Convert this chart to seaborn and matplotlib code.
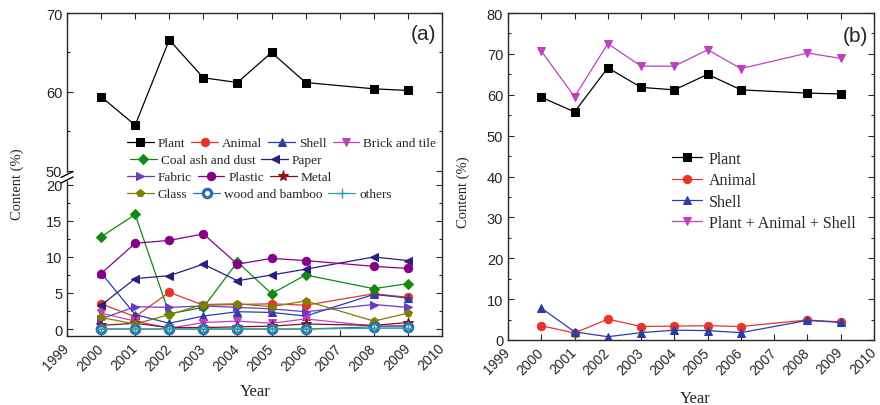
import numpy as np
import matplotlib
matplotlib.use("Agg")
import matplotlib.pyplot as plt
import seaborn as sns
from matplotlib.ticker import MultipleLocator
from matplotlib.lines import Line2D

# ------------------------
# Data
# ------------------------
years = [2000, 2001, 2002, 2003, 2004, 2005, 2006, 2008, 2009]

plant = [59.4, 55.8, 66.6, 61.8, 61.2, 65.0, 61.2, 60.4, 60.2]
animal = [3.5, 1.7, 5.1, 3.3, 3.4, 3.5, 3.3, 4.9, 4.4]
shell = [7.8, 2.0, 0.8, 1.8, 2.4, 2.3, 1.8, 4.8, 4.3]
brick = [2.2, 1.1, 0.1, 0.9, 1.1, 0.8, 1.4, 0.4, 0.5]
coal = [12.8, 15.9, 2.1, 3.0, 9.3, 4.9, 7.5, 5.6, 6.3]
paper = [3.3, 7.0, 7.4, 9.0, 6.7, 7.5, 8.3, 10.0, 9.5]
fabric = [1.4, 3.1, 3.0, 3.2, 3.0, 2.8, 2.4, 3.4, 3.0]
plastic = [7.7, 11.9, 12.3, 13.2, 9.0, 9.8, 9.5, 8.7, 8.4]
metal = [0.5, 0.8, 0.2, 0.2, 0.3, 0.4, 0.7, 0.5, 0.9]
glass = [1.6, 0.7, 2.0, 3.4, 3.5, 3.1, 3.9, 1.1, 2.2]
wood = [0.0, 0.0, 0.0, 0.0, 0.0, 0.0, 0.0, 0.3, 0.3]
others = [0.0, 0.0, 0.0, 0.0, 0.0, 0.0, 0.0, 0.1, 0.1]
plant_animal_shell = [70.7, 59.5, 72.5, 67.0, 67.0, 71.0, 66.4, 70.2, 68.9]

year_ticks = list(range(1999, 2011))

# label, values, color, marker
series_a = [
    ("Plant", plant, "#000000", "s"),
    ("Animal", animal, "#e8352a", "o"),
    ("Shell", shell, "#2b3ea6", "^"),
    ("Brick and tile", brick, "#c040c0", "v"),
    ("Coal ash and dust", coal, "#108a10", "D"),
    ("Paper", paper, "#2a1f80", "<"),
    ("Fabric", fabric, "#6a3bc8", ">"),
    ("Plastic", plastic, "#880088", "o"),
    ("Metal", metal, "#8b1010", "*"),
    ("Glass", glass, "#7f7f00", "p"),
    ("wood and bamboo", wood, "#2f6fb0", "o"),
    ("others", others, "#30a0a0", "+"),
]
legend_rows = [
    ["Plant", "Animal", "Shell", "Brick and tile"],
    ["Coal ash and dust", "Paper"],
    ["Fabric", "Plastic", "Metal"],
    ["Glass", "wood and bamboo", "others"],
]

series_b = [
    ("Plant", plant, "#000000", "s"),
    ("Animal", animal, "#e8352a", "o"),
    ("Shell", shell, "#2b3ea6", "^"),
    ("Plant + Animal + Shell", plant_animal_shell, "#c040c0", "v"),
]

# ------------------------
# Style
# ------------------------
sns.set_style("ticks")
plt.rcParams["font.family"] = ["Liberation Sans", "DejaVu Sans"]
plt.rcParams["xtick.direction"] = "in"
plt.rcParams["ytick.direction"] = "in"
SERIF = ["Liberation Serif", "DejaVu Serif"]

W, H = 880, 406
fig = plt.figure(figsize=(W / 100, H / 100), dpi=100)


def px_box(x0, y0, x1, y1):
    return [x0 / W, 1 - y1 / H, (x1 - x0) / W, (y1 - y0) / H]


ax_top = fig.add_axes(px_box(67, 14, 442, 178))
ax_bot = fig.add_axes(px_box(67, 178, 442, 337))
ax_b = fig.add_axes(px_box(508, 14, 874, 341))


def draw(ax, label, vals, color, marker):
    kw = dict(color=color, marker=marker, markersize=6, linewidth=0.9,
              markeredgecolor=color, markerfacecolor=color)
    if label == "wood and bamboo":
        kw.update(markerfacecolor="white", markeredgewidth=2.4, markersize=6)
    if marker == "+":
        kw.update(markersize=7, markeredgewidth=1.0)
    if marker == "*":
        kw.update(markersize=8)
    if marker == "D":
        kw.update(markersize=5.5)
    sns.lineplot(x=years, y=vals, ax=ax, legend=False, **kw)
    return ax.lines[-1]


# ------------------------
# Panel (a): broken axis
# ------------------------
handles = {}
for label, vals, color, marker in series_a:
    h1 = draw(ax_top, label, vals, color, marker)
    draw(ax_bot, label, vals, color, marker)
    handles[label] = h1

ax_top.set_ylim(49.24, 70)
ax_bot.set_ylim(-0.97, 21.1)
for ax in (ax_top, ax_bot, ax_b):
    ax.set_xlim(1999, 2010)
    ax.set_xticks(year_ticks)
    ax.tick_params(which="both", top=True, right=True, width=0.8)
    ax.tick_params(axis="y", labelsize=10.5)
    ax.tick_params(axis="x", labelsize=10, pad=7)
    ax.tick_params(which="major", length=4)
    ax.tick_params(which="minor", length=2.5)
    for s in ax.spines.values():
        s.set_linewidth(1.0)
    ax.set_xlabel("")
    ax.set_ylabel("")

ax_top.yaxis.set_major_locator(MultipleLocator(10))
ax_top.yaxis.set_minor_locator(MultipleLocator(5))
ax_top.spines["bottom"].set_visible(False)
ax_top.tick_params(which="both", bottom=False, labelbottom=False)

ax_bot.yaxis.set_major_locator(MultipleLocator(5))
ax_bot.yaxis.set_minor_locator(MultipleLocator(2.5))
ax_bot.spines["top"].set_visible(False)
ax_bot.tick_params(which="both", top=False)

ax_b.set_ylim(0, 80)
ax_b.yaxis.set_major_locator(MultipleLocator(10))
ax_b.yaxis.set_minor_locator(MultipleLocator(5))

for ax in (ax_bot, ax_b):
    plt.setp(ax.get_xticklabels(), rotation=45, ha="right", va="center",
             rotation_mode="anchor")

# break marks on the left spine
tf = fig.transFigure
fig.patches.append(plt.Rectangle((64 / W, 1 - 181 / H), 6 / W, 7 / H,
                                 transform=tf, color="white", zorder=10))
for yc in (175.5, 181.0):
    fig.lines.append(Line2D([61 / W, 73 / W], [1 - (yc + 3) / H, 1 - (yc - 3) / H],
                            transform=tf, color="black", linewidth=1.0, zorder=11))

# legend rows for panel (a)
row_pos = [(127, 144), (130, 161), (127, 178), (127, 195)]
for row, (lx, ly) in zip(legend_rows, row_pos):
    fig.legend([handles[r] for r in row], row, loc="center left",
               bbox_to_anchor=(lx / W, 1 - ly / H), ncol=len(row),
               frameon=False, borderpad=0, borderaxespad=0,
               handlelength=2.0, handletextpad=0.3, columnspacing=0.45,
               prop={"family": SERIF, "size": 9.6})

ax_top.text(0.985, 0.875, "(a)", transform=ax_top.transAxes, ha="right",
            va="center", fontsize=15)

# ------------------------
# Panel (b)
# ------------------------
hb = []
for label, vals, color, marker in series_b:
    hb.append(draw(ax_b, label, vals, color, marker))

fig.legend(hb, [s[0] for s in series_b], loc="upper left",
           bbox_to_anchor=(672 / W, 1 - 152 / H), frameon=False,
           borderpad=0, borderaxespad=0, handlelength=1.9,
           handletextpad=0.4, labelspacing=0.33,
           prop={"family": SERIF, "size": 11.5})

ax_b.text(0.985, 0.93, "(b)", transform=ax_b.transAxes, ha="right",
          va="center", fontsize=15)

# axis labels
fig.text(17 / W, 1 - 184 / H, "Content (%)", rotation=90, ha="center",
         va="center", family=SERIF, fontsize=10.5)
fig.text(463 / W, 1 - 192 / H, "Content (%)", rotation=90, ha="center",
         va="center", family=SERIF, fontsize=10.5)
fig.text(255 / W, 1 - 392 / H, "Year", ha="center", va="center",
         family=SERIF, fontsize=12)
fig.text(695 / W, 1 - 399 / H, "Year", ha="center", va="center",
         family=SERIF, fontsize=12)

fig.savefig("out.png", dpi=100)
